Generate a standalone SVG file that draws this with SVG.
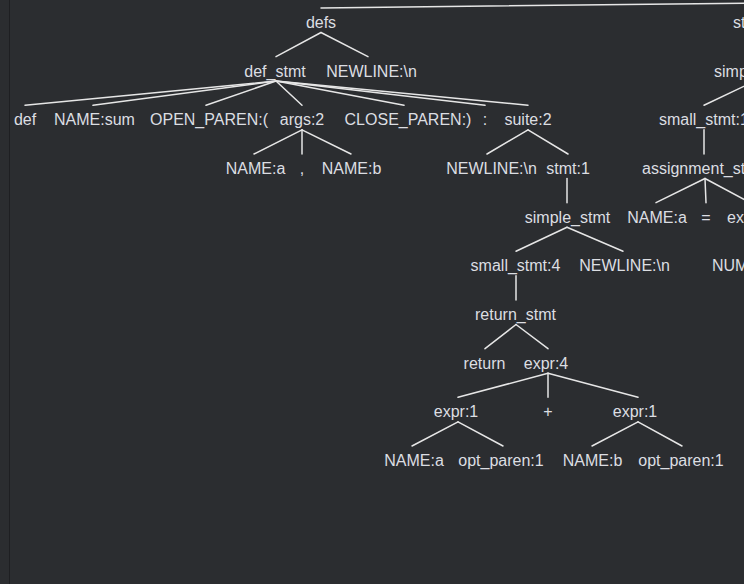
<svg xmlns="http://www.w3.org/2000/svg" width="744" height="584" viewBox="0 0 744 584">
<style>
text{font-family:"Liberation Sans",Arial,sans-serif;font-size:16px;fill:#dcdee2;text-anchor:middle}
text.s{text-anchor:start}
#edges line{stroke:#e6e6e6;stroke-width:1.5;stroke-linecap:round}
</style>
<rect x="0" y="0" width="744" height="584" fill="#2b2d30"/>
<line x1="9.5" y1="0" x2="9.5" y2="584" stroke="#1e1f22" stroke-width="1"/>
<g id="edges">
<line x1="321" y1="8" x2="760" y2="3"/>
<line x1="321" y1="32.5" x2="276" y2="56.7"/>
<line x1="321" y1="32.5" x2="368" y2="56.7"/>
<line x1="276" y1="81" x2="25" y2="105.3"/>
<line x1="276" y1="81" x2="93" y2="105.3"/>
<line x1="276" y1="81" x2="206" y2="105.3"/>
<line x1="276" y1="81" x2="302" y2="105.3"/>
<line x1="276" y1="81" x2="404" y2="105.3"/>
<line x1="276" y1="81" x2="485" y2="105.3"/>
<line x1="276" y1="81" x2="528" y2="105.3"/>
<line x1="755" y1="81" x2="704" y2="105.3"/>
<line x1="302" y1="129.8" x2="254" y2="154"/>
<line x1="302" y1="129.8" x2="302" y2="154"/>
<line x1="302" y1="129.8" x2="351" y2="154"/>
<line x1="528" y1="129.8" x2="487" y2="154"/>
<line x1="528" y1="129.8" x2="568" y2="154"/>
<line x1="704" y1="129.8" x2="704" y2="154"/>
<line x1="567" y1="178.5" x2="567" y2="202.7"/>
<line x1="705" y1="178.5" x2="656" y2="202.7"/>
<line x1="705" y1="178.5" x2="706" y2="202.7"/>
<line x1="705" y1="178.5" x2="750" y2="202.7"/>
<line x1="567" y1="227.2" x2="516" y2="251.3"/>
<line x1="567" y1="227.2" x2="623" y2="251.3"/>
<line x1="516" y1="275.8" x2="516" y2="300"/>
<line x1="516" y1="324.5" x2="485" y2="348.7"/>
<line x1="516" y1="324.5" x2="548" y2="348.7"/>
<line x1="548" y1="373.2" x2="458" y2="397.3"/>
<line x1="548" y1="373.2" x2="548" y2="397.3"/>
<line x1="548" y1="373.2" x2="638" y2="397.3"/>
<line x1="458" y1="421.8" x2="412" y2="446"/>
<line x1="458" y1="421.8" x2="503" y2="446"/>
<line x1="638" y1="421.8" x2="592" y2="446"/>
<line x1="638" y1="421.8" x2="682" y2="446"/>
</g>
<g id="n-defs"><text x="321" y="28">defs</text></g>
<g id="n-stmt-top"><text class="s" x="733" y="28">st</text></g>
<g id="n-def_stmt"><text x="275" y="76.7">def_stmt</text></g>
<g id="n-newline1"><text x="371.5" y="76.7">NEWLINE:\n</text></g>
<g id="n-simple_stmt-r"><text class="s" x="714" y="76.7">simp</text></g>
<g id="n-def"><text x="25" y="125.3">def</text></g>
<g id="n-name-sum"><text x="94.5" y="125.3">NAME:sum</text></g>
<g id="n-open"><text x="209" y="125.3">OPEN_PAREN:(</text></g>
<g id="n-args"><text x="302" y="125.3">args:2</text></g>
<g id="n-close"><text x="408" y="125.3">CLOSE_PAREN:)</text></g>
<g id="n-colon"><text x="485" y="125.3">:</text></g>
<g id="n-suite"><text x="528" y="125.3">suite:2</text></g>
<g id="n-small_stmt1"><text class="s" x="659" y="125.3">small_stmt:1</text></g>
<g id="n-name-a1"><text x="255.5" y="174">NAME:a</text></g>
<g id="n-comma"><text x="302" y="174">,</text></g>
<g id="n-name-b1"><text x="351.5" y="174">NAME:b</text></g>
<g id="n-newline2"><text x="491.5" y="174">NEWLINE:\n</text></g>
<g id="n-stmt1"><text x="568" y="174">stmt:1</text></g>
<g id="n-assign"><text class="s" x="642" y="174">assignment_st</text></g>
<g id="n-simple_stmt"><text x="567.5" y="222.7">simple_stmt</text></g>
<g id="n-name-a2"><text x="657" y="222.7">NAME:a</text></g>
<g id="n-eq"><text x="706" y="222.7">=</text></g>
<g id="n-ex"><text class="s" x="727" y="222.7">ex</text></g>
<g id="n-small_stmt4"><text x="515.5" y="271.3">small_stmt:4</text></g>
<g id="n-newline3"><text x="624.5" y="271.3">NEWLINE:\n</text></g>
<g id="n-num"><text class="s" x="712" y="271.3">NUM</text></g>
<g id="n-return_stmt"><text x="515.5" y="320">return_stmt</text></g>
<g id="n-return"><text x="484.5" y="368.7">return</text></g>
<g id="n-expr4"><text x="546" y="368.7">expr:4</text></g>
<g id="n-expr1a"><text x="456" y="417.3">expr:1</text></g>
<g id="n-plus"><text x="548" y="417.3">+</text></g>
<g id="n-expr1b"><text x="635" y="417.3">expr:1</text></g>
<g id="n-name-a3"><text x="414" y="466">NAME:a</text></g>
<g id="n-opt1"><text x="501" y="466">opt_paren:1</text></g>
<g id="n-name-b2"><text x="592.5" y="466">NAME:b</text></g>
<g id="n-opt2"><text x="681" y="466">opt_paren:1</text></g>
</svg>
